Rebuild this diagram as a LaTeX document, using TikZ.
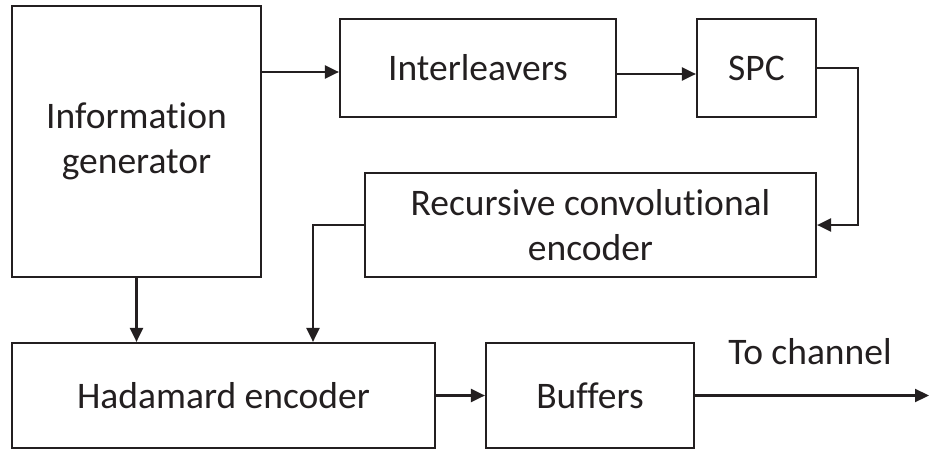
\documentclass[tikz,border=0pt]{standalone}
\usepackage{fontspec}
\setmainfont[Ligatures=NoCommon]{Carlito}
\usetikzlibrary{arrows.meta}
\definecolor{ink}{HTML}{231F20}
\begin{document}
\begin{tikzpicture}[x=1pt,y=-1pt,
  blk/.style={draw=ink, line width=2.2pt, rectangle, inner sep=0pt, align=center,
    text=ink, font=\fontsize{37.5}{45}\selectfont},
  arr/.style={draw=ink, line width=2.2pt, -{Triangle[length=14pt,width=13pt]}},
  lbl/.style={text=ink, font=\fontsize{37.5}{45}\selectfont, inner sep=0pt}]
  \useasboundingbox (0,0) rectangle (929,450);
  % blocks
  \node[blk, minimum width=249pt, minimum height=271pt] (info) at (136.5,141.5) {Information\\generator};
  \node[blk, minimum width=276pt, minimum height=98pt] (il) at (478,68) {Interleavers};
  \node[blk, minimum width=119pt, minimum height=98pt] (spc) at (756.5,68) {SPC};
  \node[blk, minimum width=451pt, minimum height=104pt] (rce) at (590.5,225) {Recursive convolutional\\encoder};
  \node[blk, minimum width=423pt, minimum height=105pt] (had) at (223.5,395.5) {Hadamard encoder};
  \node[blk, minimum width=208pt, minimum height=105pt] (buf) at (590,395.5) {Buffers};
  \node[lbl] (tc) at (810,352) {To channel};
  % helper coordinates for connector routing
  \coordinate (y1) at (0,72);
  \coordinate (y2) at (0,74);
  \coordinate (y3) at (0,68);
  \coordinate (xr) at (858,0);
  \coordinate (xl) at (313,0);
  \coordinate (out) at (929,395.5);
  % connectors
  \draw[arr] (info.east |- y1) -- (il.west |- y1);
  \draw[arr] (il.east |- y2) -- (spc.west |- y2);
  \draw[arr] (spc.east |- y3) -| (xr |- rce.east) -- (rce.east);
  \draw[arr] (rce.west) -| (xl |- had.north);
  \draw[arr] (info.south) -- (info.south |- had.north);
  \draw[arr] (had.east) -- (buf.west);
  \draw[arr] (buf.east) -- (out);
\end{tikzpicture}
\end{document}
